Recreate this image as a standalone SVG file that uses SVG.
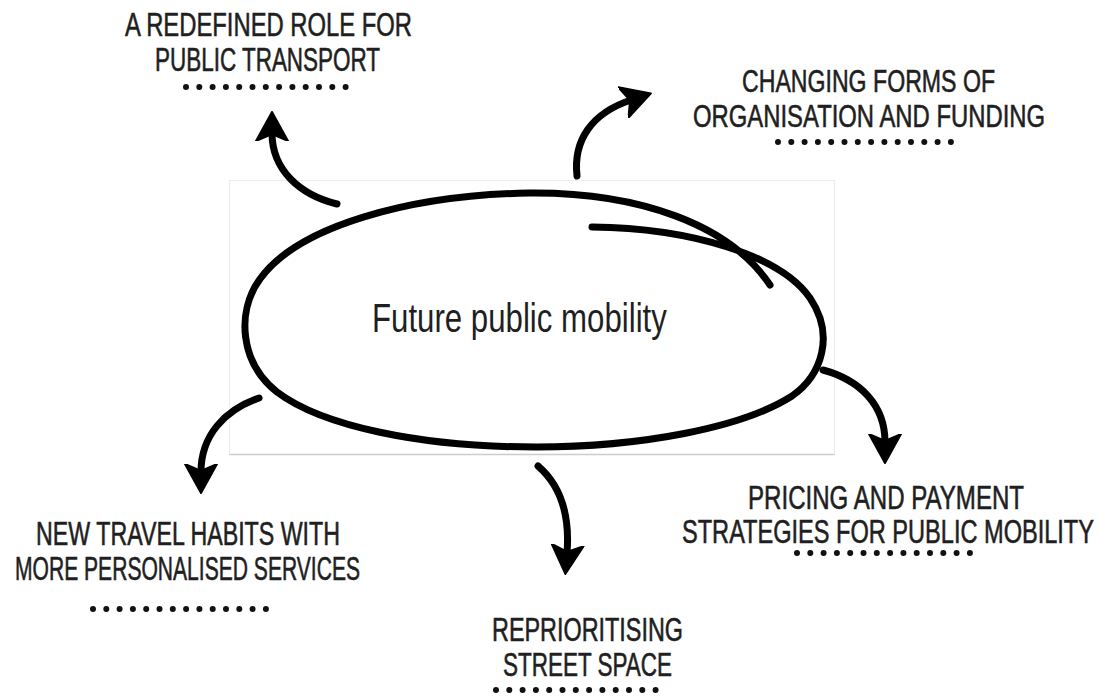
<svg xmlns="http://www.w3.org/2000/svg" width="1099" height="696" viewBox="0 0 1099 696">
<style>
.lbl{font-family:'Liberation Sans',sans-serif;font-size:33px;fill:#1f1f1f;stroke:#1f1f1f;stroke-width:0.6;}
.sm{font-size:32px;}
.ctr{font-family:'Liberation Sans',sans-serif;font-size:40px;fill:#1f1f1f;}
.dots{stroke:#111;stroke-width:6;stroke-linecap:round;stroke-dasharray:0 13.3;fill:none;}
.pen{fill:none;stroke:#000;stroke-width:7;stroke-linecap:round;stroke-linejoin:round;}
</style>
<defs>
<marker id="head" markerUnits="userSpaceOnUse" viewBox="0 0 30 34" markerWidth="30" markerHeight="34" refX="8" refY="17" orient="auto">
<path d="M0,1 L29,17 L0,33 L7,17 Z" fill="#000" stroke="#000" stroke-width="2" stroke-linejoin="round"/>
</marker>
</defs>
<rect width="1099" height="696" fill="#fff"/>
<g id="frame">
<rect x="229.5" y="180.5" width="605" height="274" fill="none" stroke="#ececec" stroke-width="1"/>
<line x1="229.5" y1="454.5" x2="834.5" y2="454.5" stroke="#cccccc" stroke-width="1.5"/>
</g>
<g id="center">
<path class="pen" d="M592,227 C690,228 780,255 810,298 C835,335 822,375 792,396 C742,428 640,447 536,447 C420,447 322,426 277,392 C240,363 236,312 260,279 C298,226 410,195 529,193 C640,192 730,225 770,285"/>
<text class="ctr" transform="translate(372,332) scale(0.78,1)" textLength="378" lengthAdjust="spacingAndGlyphs">Future public mobility</text>
</g>
<g id="connectors">
<path class="pen" marker-end="url(#head)" d="M337,204 C300,195 272,170 272,133"/>
<path class="pen" marker-end="url(#head)" d="M577,176 C573,140 592,113 631,100"/>
<path class="pen" marker-end="url(#head)" d="M823,370 C860,380 885,405 885,442"/>
<path class="pen" marker-end="url(#head)" d="M538,466 C560,485 570,515 567,553"/>
<path class="pen" marker-end="url(#head)" d="M259,398 C225,410 201,435 201,472"/>
</g>
<g id="node-public-transport">
<text class="lbl" transform="translate(125,36) scale(0.718,1)" textLength="399.7" lengthAdjust="spacingAndGlyphs">A REDEFINED ROLE FOR</text>
<text class="lbl" transform="translate(155,71) scale(0.678,1)" textLength="331.9" lengthAdjust="spacingAndGlyphs">PUBLIC TRANSPORT</text>
<line class="dots" x1="186" y1="87" x2="358" y2="87"/>
</g>
<g id="node-organisation">
<text class="lbl sm" transform="translate(742,92) scale(0.724,1)" textLength="349.5" lengthAdjust="spacingAndGlyphs">CHANGING FORMS OF</text>
<text class="lbl sm" transform="translate(693,127) scale(0.729,1)" textLength="482.9" lengthAdjust="spacingAndGlyphs">ORGANISATION AND FUNDING</text>
<line class="dots" x1="778" y1="142" x2="952" y2="142"/>
</g>
<g id="node-pricing">
<text class="lbl" transform="translate(748,509) scale(0.717,1)" textLength="385" lengthAdjust="spacingAndGlyphs">PRICING AND PAYMENT</text>
<text class="lbl" transform="translate(682,543) scale(0.699,1)" textLength="589.4" lengthAdjust="spacingAndGlyphs">STRATEGIES FOR PUBLIC MOBILITY</text>
<line class="dots" x1="797" y1="553" x2="971" y2="553"/>
</g>
<g id="node-street-space">
<text class="lbl" transform="translate(492,641) scale(0.71,1)" textLength="269" lengthAdjust="spacingAndGlyphs">REPRIORITISING</text>
<text class="lbl" transform="translate(503,676) scale(0.673,1)" textLength="251.1" lengthAdjust="spacingAndGlyphs">STREET SPACE</text>
<line class="dots" x1="496" y1="690" x2="668" y2="690"/>
</g>
<g id="node-travel-habits">
<text class="lbl" transform="translate(36,545) scale(0.697,1)" textLength="436.2" lengthAdjust="spacingAndGlyphs">NEW TRAVEL HABITS WITH</text>
<text class="lbl" transform="translate(15,580) scale(0.638,1)" textLength="540.8" lengthAdjust="spacingAndGlyphs">MORE PERSONALISED SERVICES</text>
<line class="dots" x1="93" y1="609" x2="268" y2="609"/>
</g>
</svg>
